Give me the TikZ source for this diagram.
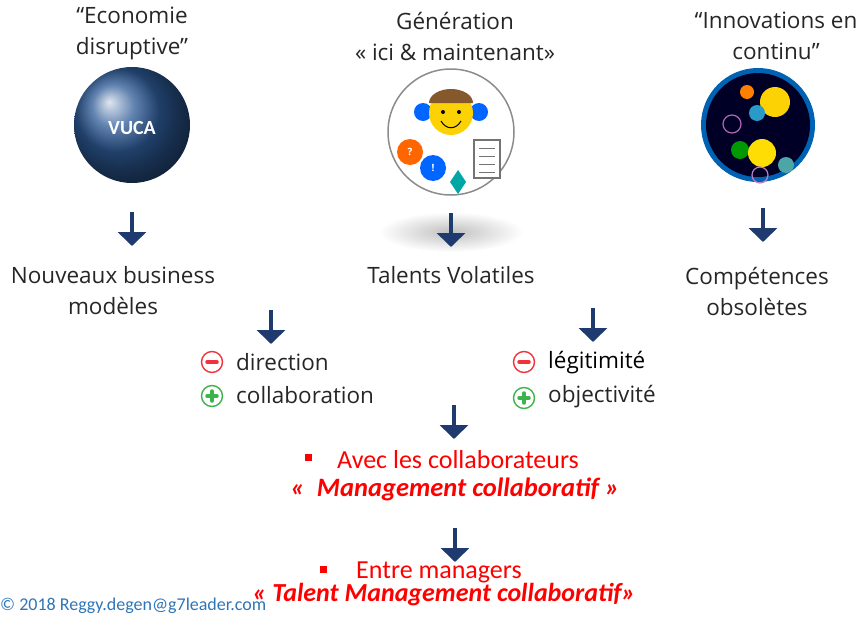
\documentclass[tikz,border=0pt]{standalone}
\usepackage{fontspec}
\setmainfont{Open Sans}
\newfontfamily\calibri{Carlito}
\usetikzlibrary{arrows.meta}
\definecolor{navy}{HTML}{1F3A6E}
\definecolor{signred}{HTML}{F0323C}
\definecolor{signgreen}{HTML}{3CB44B}
\definecolor{copyblue}{HTML}{2E75B6}

\begin{document}
\begin{tikzpicture}[x=1pt,y=-1pt]
        \tikzstyle{txt}=[align=center,inner sep=0pt,text=black!85,font=\fontsize{22.5}{31}\selectfont]
        \tikzstyle{redtxt}=[align=center,inner sep=0pt,text=red,font=\calibri\fontsize{26}{31}\selectfont]
        \tikzstyle{down}=[draw=navy,line width=4pt,-{Triangle[width=28pt,length=14pt]}]
        \tikzstyle{sign}=[circle,line width=1.4pt,minimum size=21pt,inner sep=0pt]
        \tikzstyle{minus sign}=[sign,draw=signred,path picture={\draw[signred,line width=3.5pt,line cap=round] ([xshift=-5pt]path picture bounding box.center) -- ([xshift=5pt]path picture bounding box.center);}]
        \tikzstyle{plus sign}=[sign,draw=signgreen,path picture={\draw[signgreen,line width=3.5pt,line cap=round] ([xshift=-5pt]path picture bounding box.center) -- ([xshift=5pt]path picture bounding box.center) ([yshift=-5pt]path picture bounding box.center) -- ([yshift=5pt]path picture bounding box.center);}]
        \tikzstyle{bullet}=[fill=red,minimum size=7pt,inner sep=0pt]
        \useasboundingbox (0,0) rectangle (865,616);

        \node[txt] (eco) at (132,33) {“Economie\\disruptive”};
        \node[txt] (gen) at (455,36) {Génération\\« ici \& maintenant»};
        \node[txt] (inno) at (776,36) {“Innovations en\\continu”};

        \shade[ball color={rgb,255:red,45;green,90;blue,150}] (132,125) circle (58);
        \node[white,font=\calibri\fontsize{20}{20}\selectfont\bfseries] (vuca) at (132,128) {VUCA};

        \shade[inner color=black!25,outer color=white] (451,232) ellipse (72 and 20);
        \draw[black!45,line width=1.5pt,fill=white] (451,132) circle (63);
        \fill[blue!60!cyan] (423,112) circle (9) (479,112) circle (9);
        \fill[yellow!70!orange] (451,113) circle (22);
        \fill[brown!70!black] (429,103) arc (180:360:22 and 14) -- cycle;
        \fill[black] (443,112) circle (2) (459,112) circle (2);
        \draw[black,line width=1pt] (441,121) .. controls (446,130) and (456,130) .. (461,121);
        \fill[orange!80!red] (410,152) circle (13);
        \node[white,font=\bfseries] at (410,152) {?};
        \fill[blue!60!cyan] (433,168) circle (13);
        \node[white,font=\bfseries] at (433,168) {!};
        \fill[teal!70!cyan] (458,170) -- (466,182) -- (458,194) -- (450,182) -- cycle;
        \draw[black!55,line width=1.2pt,fill=white] (474,140) rectangle (500,178);
        \foreach \k in {148,156,164,172}
            \draw[black!55] (479,\k) -- (495,\k);

        \fill[blue!45!cyan!70!black] (758,125) circle (57);
        \fill[black!85!blue] (758,125) circle (52);
        \fill[yellow!70!orange] (775,102) circle (15);
        \fill[orange] (747,92) circle (7);
        \fill[cyan!60!teal] (757,113) circle (8);
        \draw[violet!60,line width=1.2pt] (732,124) circle (9);
        \fill[green!60!black] (740,150) circle (9);
        \fill[yellow!80!orange] (762,153) circle (14);
        \fill[teal!70] (786,165) circle (8);
        \draw[violet!50,line width=1.2pt] (760,175) circle (8);

        \node[txt] (nbm) at (113,291) {Nouveaux business\\modèles};
        \node[txt] (tv) at (451,275) {Talents Volatiles};
        \node[txt] (comp) at (757,291) {Compétences\\obsolètes};

        \coordinate (a1) at (132,212); \coordinate (b1) at (132,246);
        \coordinate (a2) at (451,213); \coordinate (b2) at (451,247);
        \coordinate (a3) at (763,208); \coordinate (b3) at (763,242);
        \draw[down] (a1) -- (b1);
        \draw[down] (a2) -- (b2);
        \draw[down] (a3) -- (b3);

        \coordinate (a4) at (271,310); \coordinate (b4) at (271,344);
        \coordinate (a5) at (593,308); \coordinate (b5) at (593,342);
        \draw[down] (a4) -- (b4);
        \draw[down] (a5) -- (b5);

        \node[minus sign] (m1) at (212,362) {};
        \node[txt,anchor=west] (dir) at (236,362) {direction};
        \node[plus sign] (p1) at (212,396) {};
        \node[txt,anchor=west] (col) at (236,395) {collaboration};
        \node[minus sign] (m2) at (524,362) {};
        \node[txt,anchor=west,text=black] (leg) at (548,363) {légitimité};
        \node[plus sign] (p2) at (524,398) {};
        \node[txt,anchor=west] (obj) at (548,397) {objectivité};

        \coordinate (a6) at (454,405); \coordinate (b6) at (454,439);
        \draw[down] (a6) -- (b6);

        \node[bullet] (s1) at (308,457) {};
        \node[redtxt,anchor=west] (avec) at (337,460) {Avec les collaborateurs};
        \node[redtxt,font=\calibri\fontsize{26.5}{31}\selectfont\itshape\bfseries] (mc) at (455,489) {«\ \ Management collaboratif »};

        \coordinate (a7) at (455,528); \coordinate (b7) at (455,562);
        \draw[down] (a7) -- (b7);

        \node[bullet] (s2) at (323,569) {};
        \node[redtxt,anchor=west] (entre) at (356,572) {Entre managers};
        \node[redtxt,font=\calibri\fontsize{26}{31}\selectfont\itshape\bfseries] (tmc) at (444,595) {« Talent Management collaboratif»};

        \node[anchor=base west,inner sep=0pt,text=copyblue,font=\calibri\fontsize{18}{18}\selectfont] (copy) at (0,610) {© 2018 Reggy.degen@g7leader.com};
    \end{tikzpicture}
\end{document}
